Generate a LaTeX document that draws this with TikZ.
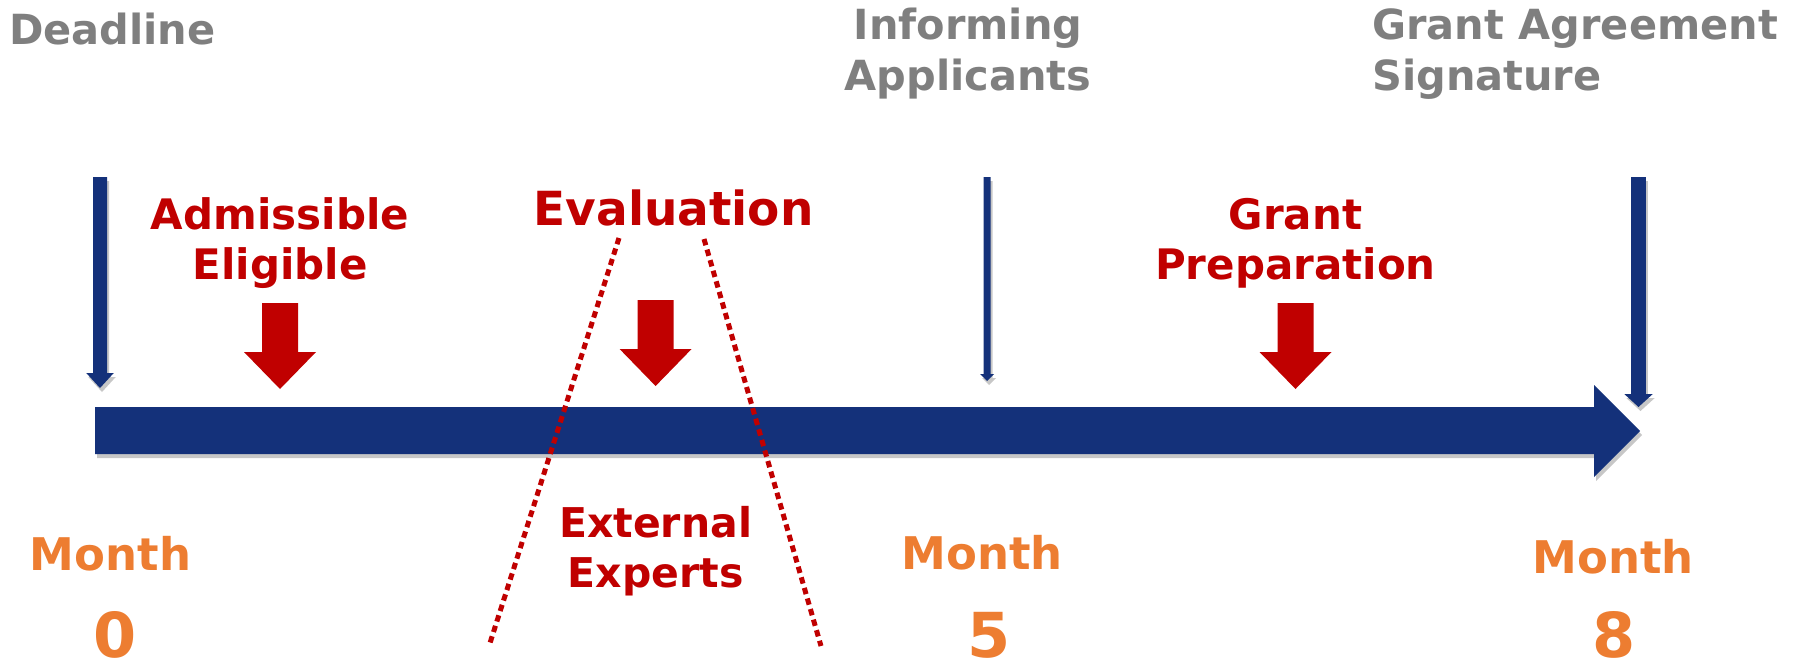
\documentclass[tikz,border=0pt]{standalone}
\usepackage{fontspec}
\setmainfont{DejaVu Sans}
\usetikzlibrary{shadows}
\definecolor{navy}{HTML}{14317A}
\definecolor{darkred}{HTML}{C00000}
\definecolor{orng}{HTML}{ED7D31}
\definecolor{gry}{HTML}{7F7F7F}
\begin{document}
\begin{tikzpicture}[x=1pt,y=-1pt,
  glabel/.style={text=gry,font=\fontsize{41.5}{51}\selectfont\bfseries,inner sep=0pt,align=left},
  rlabel/.style={text=darkred,font=\fontsize{42}{50}\selectfont\bfseries,inner sep=0pt,align=center},
  mlabel/.style={text=orng,font=\fontsize{45}{50}\selectfont\bfseries,inner sep=0pt},
  numlabel/.style={text=orng,font=\fontsize{62}{68}\selectfont\bfseries,inner sep=0pt},
  dotline/.style={darkred,line width=5pt,dash pattern=on 6.5pt off 4.5pt},
  bshadow/.style={drop shadow={shadow xshift=2pt,shadow yshift=-4pt,opacity=0.22,fill=black}},
  redarrow/.pic={\fill[darkred] (-18,0) -- (18,0) -- (18,49) -- (36,49) -- (0,86) -- (-36,49) -- (-18,49) -- cycle;}
]
\useasboundingbox (0,0) rectangle (1804,665);

% main timeline arrow
\fill[navy,bshadow] (95,407) -- (1594,407) -- (1594,385) -- (1640,431) -- (1594,477) -- (1594,454) -- (95,454) -- cycle;

% blue vertical arrows
\fill[navy,bshadow] (93,177) -- (107,177) -- (107,373) -- (113.75,373) -- (100,388) -- (86.25,373) -- (93,373) -- cycle;
\fill[navy,bshadow] (983.5,177) -- (990.5,177) -- (990.5,374) -- (994,374) -- (987,381) -- (980,374) -- (983.5,374) -- cycle;
\fill[navy,bshadow] (1631.2,177) -- (1645.8,177) -- (1645.8,394) -- (1652.75,394) -- (1638.5,407) -- (1624.25,394) -- (1631.2,394) -- cycle;

% red arrows
\pic at (280,303) {redarrow};
\pic at (655.6,300) {redarrow};
\pic at (1295.5,303) {redarrow};

% dotted lines
\coordinate (l1) at (619,238);
\coordinate (l2) at (490,643);
\coordinate (r1) at (704,239);
\coordinate (r2) at (821,646);
\draw[dotline] (l1) -- (l2);
\draw[dotline] (r1) -- (r2);

% gray labels
\node[glabel,anchor=base west] (deadline) at (9,44) {Deadline};
\node[glabel,anchor=base,align=center] (inform) at (968,90) {Informing\\Applicants};
\node[glabel,anchor=base west] (grantag) at (1372,90) {Grant Agreement\\Signature};

% red labels
\node[rlabel,anchor=base] (admiss) at (280,279) {Admissible\\Eligible};
\node[rlabel,anchor=base,font=\fontsize{47}{52}\selectfont\bfseries] (eval) at (673.6,225) {Evaluation};
\node[rlabel,anchor=base] (grantprep) at (1295.5,279) {Grant\\Preparation};
\node[rlabel,anchor=base,font=\fontsize{41}{50}\selectfont\bfseries] (extexp) at (655.6,587) {External\\Experts};

% month labels
\node[mlabel,anchor=base] (m0) at (110.5,570) {Month};
\node[mlabel,anchor=base] (m5) at (982,569) {Month};
\node[mlabel,anchor=base] (m8) at (1613,573) {Month};
\node[numlabel,anchor=base] (n0) at (115,657) {0};
\node[numlabel,anchor=base] (n5) at (989,657) {5};
\node[numlabel,anchor=base] (n8) at (1614,657) {8};
\end{tikzpicture}
\end{document}
